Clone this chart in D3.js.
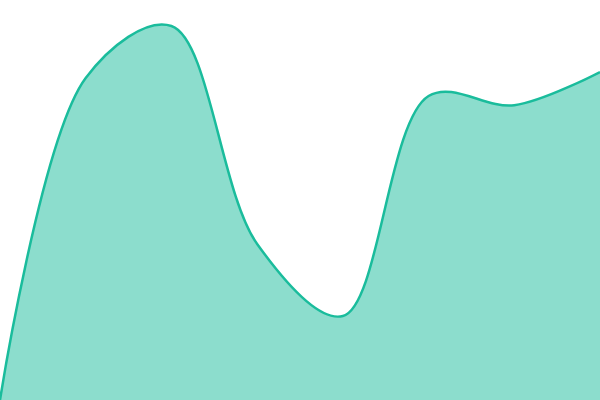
<!DOCTYPE html>
<html><head><meta charset="utf-8">
<script src="https://cdn.jsdelivr.net/npm/d3@7"></script>
<style>html,body{margin:0;padding:0;background:#fff;}svg{display:block;}</style>
</head><body>
<svg id="chart" width="600" height="400"></svg>
<script>
const categories = [0, 1, 2, 3, 4, 5, 6, 7];
const values = [0, 80.5, 93.5, 39, 21, 76, 73.7, 82];

const W = 600, H = 400;
const svg = d3.select("#chart");
const x = d3.scaleLinear().domain([0, categories.length - 1]).range([0, W]);
const y = d3.scaleLinear().domain([0, 100]).range([H, 0]);
const data = categories.map((c, i) => ({c, v: values[i]}));

const area = d3.area().x(d => x(d.c)).y0(H).y1(d => y(d.v)).curve(d3.curveCatmullRom);
const line = d3.line().x(d => x(d.c)).y(d => y(d.v)).curve(d3.curveCatmullRom);

svg.append("path").datum(data).attr("d", area).attr("fill", "#1abc9c").attr("fill-opacity", 0.5);
svg.append("path").datum(data).attr("d", line).attr("fill", "none").attr("stroke", "#1abc9c").attr("stroke-width", 2.5);
</script>
</body></html>
